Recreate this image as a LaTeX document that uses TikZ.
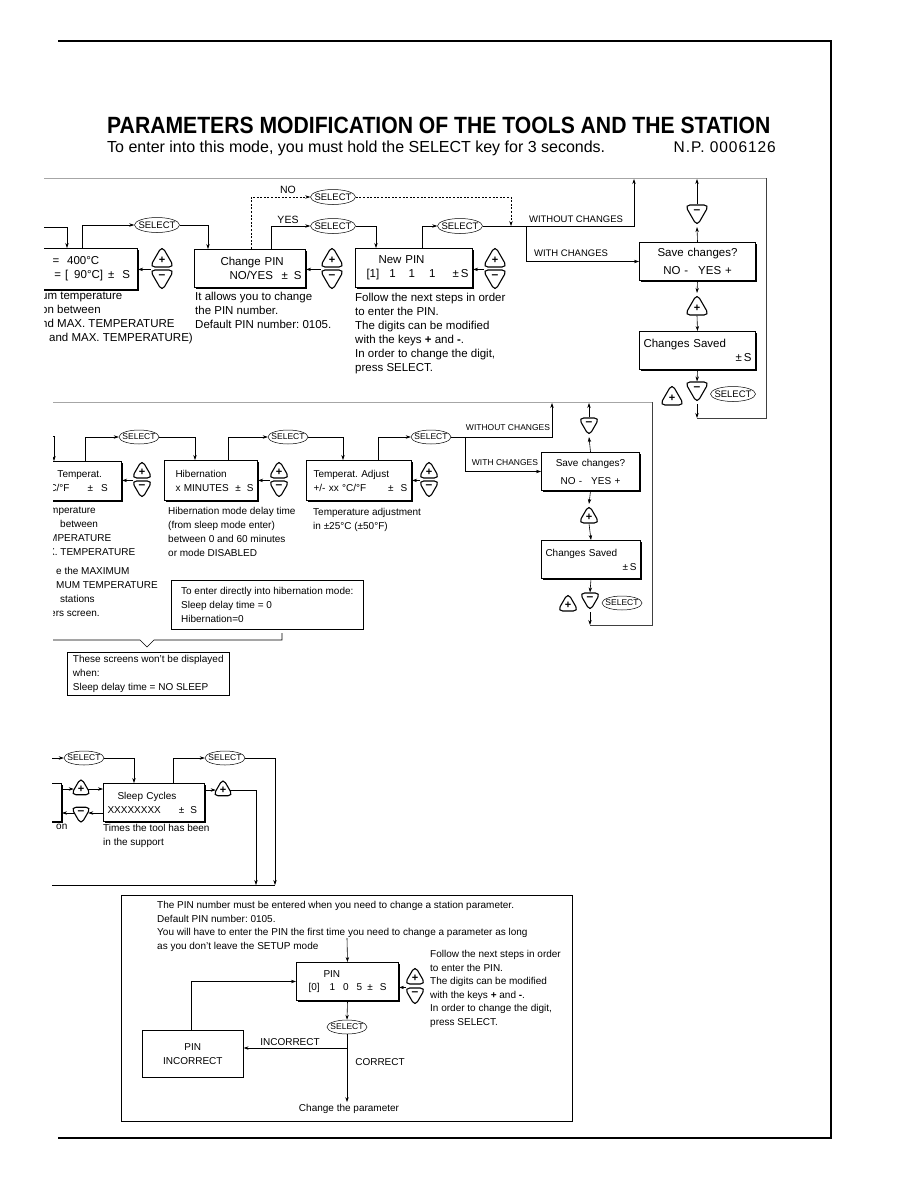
\documentclass[tikz,border=0pt]{standalone}
\usepackage{fontspec}
\setmainfont{Liberation Sans}
\usepackage{graphicx}
\usepackage{tikz}
\usetikzlibrary{arrows.meta, positioning, shapes.geometric, shadows}

\newcommand\rowAfont{\fontsize{11.5}{14}\selectfont}
\newcommand\rowBfont{\fontsize{10}{14}\selectfont}
\newcommand\pinfont{\fontsize{10}{13.6}\selectfont}
\newcommand\minussign{{\fontsize{12}{12}\selectfont\bfseries --}}

\tikzset{
  arr/.style={-{Stealth[length=5pt,width=3.4pt]}, line width=0.6pt},
  wire/.style={line width=0.6pt},
  dashwire/.style={dash pattern=on 2pt off 1.6pt},
  lcd/.style={draw, line width=1pt, fill=white, inner xsep=4pt, inner ysep=0pt, align=left,
    drop shadow={shadow xshift=1pt, shadow yshift=-1.2pt, opacity=1, fill=black}},
  note/.style={draw, line width=0.6pt, fill=white, inner xsep=5pt, inner ysep=0pt, align=left},
  selkey/.style={draw, ellipse, line width=0.5pt, inner xsep=-4pt, inner ysep=0pt,
    minimum width=45pt, minimum height=15pt, font=\fontsize{9.5}{10}\selectfont},
  selsmall/.style={selkey, minimum width=40pt, minimum height=14pt, font=\fontsize{8.5}{9}\selectfont},
  pluskey/.style={draw, line width=1.1pt, fill=white, regular polygon, regular polygon sides=3,
    rounded corners=5pt, minimum size=#1, inner sep=0pt, font=\bfseries\fontsize{11}{11}\selectfont},
  pluskey/.default=28pt,
  minuskey/.style={pluskey=#1, shape border rotate=180},
  minuskey/.default=28pt,
  desc/.style={align=left, anchor=north west, inner sep=0pt},
  lbl/.style={inner sep=0pt, font=\fontsize{9.5}{10}\selectfont},
  frameline/.style={line width=0.7pt, black!75},
  topline/.style={line width=0.8pt, black!35},
}

\begin{document}
\frenchspacing
\begin{tikzpicture}[x=1pt, y=-1pt]
  \useasboundingbox (0,0) rectangle (918,1188);

  % page frame and heading
  \draw[line width=1.1pt] (58,41) -- (831,41) -- (831,1138) -- (58,1138);
  \node[anchor=base west, inner sep=0pt] (title) at (107,134)
  {\scalebox{0.9}[1]{\fontsize{23.5}{28}\selectfont\bfseries PARAMETERS MODIFICATION OF THE TOOLS AND THE STATION}};
  \node[anchor=base west, inner sep=0pt, font=\fontsize{16}{18}\selectfont] (subtitle) at (107,152)
  {To enter into this mode, you must hold the SELECT key for 3 seconds.};
  \node[anchor=base east, inner sep=0pt, font=\fontsize{15.5}{17}\selectfont\addfontfeatures{LetterSpace=6}] (np) at (776,153)
  {N.P. 0006126};

  % ---------------- tools menu
  \begin{scope}[font=\rowAfont]
  \clip (44,170) rectangle (800,425);

  \node[lcd, anchor=north east, text width=130pt, minimum height=41pt] (maxt) at (138,248)
  {\hspace*{49pt}=\hspace{8pt}400°C\\\hspace*{51pt}=\ [\hspace{6pt}90°C]\hspace{5pt}±\hspace{8pt}S};
  \node[pluskey] (maxp) at (162,260) {+};
  \node[minuskey] (maxm) at (162,277) {\minussign};

  \node[lcd, anchor=north west, text width=103pt, minimum height=38pt] (cpin) at (194,249)
  {\hspace*{22pt}Change PIN\\\hspace*{31pt}NO/YES\hfill±\hspace{6pt}S};
  \node[pluskey] (cpinp) at (332,260) {+};
  \node[minuskey] (cpinm) at (332,277) {\minussign};

  \node[lcd, anchor=north west, text width=109pt, minimum height=39pt] (npin) at (355,248)
  {\hspace*{19pt}New PIN\\\hspace*{7pt}[1]\hspace{10pt}1\hspace{13pt}1\hspace{14pt}1\hfill±\,S};
  \node[pluskey] (npinp) at (495,260) {+};
  \node[minuskey] (npinm) at (495,277) {\minussign};

  \node[selkey] (sel1) at (157,225) {SELECT};
  \node[selkey] (selno) at (333,197) {SELECT};
  \node[selkey] (selyes) at (333,226) {SELECT};
  \node[selkey] (selnp) at (460,226) {SELECT};

  \node[lcd, anchor=north west, text width=108pt, minimum height=38pt, align=center] (save1) at (639,242)
  {Save changes?\\[4pt]NO -\hspace{10pt}YES +};
  \node[minuskey] (save1m) at (697,212) {\minussign};
  \node[pluskey] (save1p) at (697,308) {+};
  \node[lcd, anchor=north west, text width=108pt, minimum height=38pt] (saved1) at (639,331)
  {Changes Saved\\\hfill±\,S};
  \node[pluskey] (saved1p) at (672,398) {+};
  \node[minuskey] (saved1m) at (697,389) {\minussign};
  \node[selkey] (saved1s) at (733,394) {SELECT};

  \node[lbl, font=\fontsize{10.5}{11}\selectfont] (lno) at (288,190) {NO};
  \node[lbl, font=\fontsize{10.5}{11}\selectfont] (lyes) at (288,220) {YES};
  \node[lbl] (lwo1) at (576,219) {WITHOUT CHANGES};
  \node[lbl] (lw1) at (571,253) {WITH CHANGES};

  \node[desc] (maxd) at (41,292)
  {um temperature\\on between\\nd MAX. TEMPERATURE\\\hspace*{8pt}and MAX. TEMPERATURE)};
  \node[desc] (cpind) at (195,292)
  {It allows you to change\\the PIN number.\\Default PIN number: 0105.};
  \node[desc] (npind) at (355,293)
  {Follow the next steps in order\\to enter the PIN.\\The digits can be modified\\with the keys \textbf{+} and \textbf{-}.\\In order to change the digit,\\press SELECT.};

  \coordinate (in1) at (40,227);
  \coordinate (jn1) at (526,226);
  \coordinate (wo1) at (634,179);
  \coordinate (c1tl) at (40,178);
  \coordinate (c1tr) at (766,178);
  \coordinate (c1br) at (766,418);

  \draw[arr] (in1) -| (maxt.north -| 67,0);
  \draw[arr] (maxt.north -| 82,0) |- (sel1.west);
  \draw[arr] (sel1.east) -| (cpin.north -| 208,0);
  \draw[arr, dashwire] (cpin.north -| 251,0) |- (selno.west);
  \draw[arr, dashwire] (selno.east) -| (selnp.east -| 511,0);
  \draw[arr] (cpin.north -| 271,0) |- (selyes.west);
  \draw[arr] (selyes.east) -| (npin.north -| 376,0);
  \draw[arr] (npin.north -| 422,0) |- (selnp.west);
  \draw[wire] (selnp.east) -- (jn1);
  \draw[arr] (jn1) -| (wo1);
  \draw[arr] (jn1) |- (save1.west);
  \draw[arr] ([xshift=-11pt]maxm.north) -- (maxt.east |- maxm.north);
  \draw[arr] ([xshift=-11pt]cpinm.north) -- (cpin.east |- cpinm.north);
  \draw[arr] ([xshift=-11pt]npinm.north) -- (npin.east |- npinm.north);
  \draw[arr] (save1.north) -- (save1m.south);
  \draw[arr] (save1m.north) -- (save1m.north |- wo1);
  \draw[arr] (save1.south) -- (save1p.north);
  \draw[arr] (save1p.south) -- (saved1.north);
  \draw[arr] (saved1.south) -- (saved1m.north);
  \draw[arr] (saved1m.south) -- (saved1m.south |- c1br);
  \draw[frameline] (saved1m.south |- c1br) -- (c1br) -- (c1tr);
  \draw[topline] (c1tr) -- (c1tl);
  \end{scope}

  % ---------------- station menu
  \begin{scope}[font=\rowBfont]
  \clip (53,395) rectangle (800,712);

  \node[lcd, anchor=north east, text width=114pt, minimum height=39pt] (tunit) at (122,461)
  {\hspace*{54pt}Temperat.\\\hspace*{46pt}C/°F\hspace{18pt}±\hspace{8pt}S};
  \node[pluskey=24pt] (tunitp) at (142,472) {+};
  \node[minuskey=24pt] (tunitm) at (142,487) {\minussign};

  \node[lcd, anchor=north west, text width=85pt, minimum height=40pt] (hib) at (164,460)
  {\hspace*{7pt}Hibernation\\\hspace*{7pt}x MINUTES\hfill±\hspace{6pt}S};
  \node[pluskey=24pt] (hibp) at (279,472) {+};
  \node[minuskey=24pt] (hibm) at (279,487) {\minussign};

  \node[lcd, anchor=north west, text width=97pt, minimum height=40pt] (tadj) at (306,460)
  {\hspace*{3pt}Temperat. Adjust\\\hspace*{3pt}+/- xx °C/°F\hspace{22pt}±\hspace{7pt}S};
  \node[pluskey=24pt] (tadjp) at (429,472) {+};
  \node[minuskey=24pt] (tadjm) at (429,487) {\minussign};

  \node[selsmall] (sel2a) at (139,437) {SELECT};
  \node[selsmall] (sel2b) at (288,437) {SELECT};
  \node[selsmall] (sel2c) at (431,437) {SELECT};

  \node[lcd, anchor=north west, text width=90pt, minimum height=38pt, align=center] (save2) at (541,452)
  {Save changes?\\[4pt]NO -\hspace{9pt}YES +};
  \node[minuskey=24pt] (save2m) at (589,424) {\minussign};
  \node[pluskey=24pt] (save2p) at (589,517) {+};
  \node[lcd, anchor=north west, text width=91pt, minimum height=38pt] (saved2) at (541,540)
  {Changes Saved\\\hfill±\,S};
  \node[pluskey=24pt] (saved2p) at (568,605) {+};
  \node[minuskey=24pt] (saved2m) at (590,599) {\minussign};
  \node[selsmall] (saved2s) at (622,603) {SELECT};

  \node[lbl, font=\fontsize{8.5}{9}\selectfont] (lwo2) at (508,428) {WITHOUT CHANGES};
  \node[lbl, font=\fontsize{8.5}{9}\selectfont] (lw2) at (505,463) {WITH CHANGES};

  \node[desc] (tunitd) at (48,507)
  {\hspace*{2pt}mperature\\\hspace*{12pt}between\\\hspace*{1pt}MPERATURE\\X. TEMPERATURE};
  \node[desc] (tunitd2) at (48,567)
  {\hspace*{8pt}e the MAXIMUM\\\hspace*{8pt}MUM TEMPERATURE\\\hspace*{12pt}stations\\\hspace*{2pt}ers screen.};
  \node[desc] (hibd) at (168,507)
  {Hibernation mode delay time\\(from sleep mode enter)\\between 0 and 60 minutes\\or mode DISABLED};
  \node[desc] (tadjd) at (313,508)
  {Temperature adjustment\\in ±25°C (±50°F)};

  \node[note, anchor=north west, minimum width=192pt, minimum height=49pt] (hibnote) at (171,580)
  {To enter directly into hibernation mode:\\Sleep delay time = 0\\Hibernation=0};
  \node[note, anchor=north west, minimum width=162pt, minimum height=43pt] (scrnote) at (67,652)
  {These screens won't be displayed\\when:\\Sleep delay time = NO SLEEP};

  \coordinate (br1) at (40,640);
  \coordinate (brv) at (147,647);
  \coordinate (br2) at (282,640);
  \coordinate (br3) at (282,633);
  \draw[wire] (br1) -- (140,640) -- (brv) -- (154,640) -- (br2) -- (br3);

  \coordinate (in2) at (40,436);
  \coordinate (jn2) at (465,437);
  \coordinate (wo2) at (552,403);
  \coordinate (c2tl) at (40,402);
  \coordinate (c2tr) at (652,402);
  \coordinate (c2br) at (652,625);

  \draw[arr] (in2) -| (tunit.north -| 54,0);
  \draw[arr] (tunit.north -| 85,0) |- (sel2a.west);
  \draw[arr] (sel2a.east) -| (hib.north -| 195,0);
  \draw[arr] (hib.north -| 228,0) |- (sel2b.west);
  \draw[arr] (sel2b.east) -| (tadj.north -| 343,0);
  \draw[arr] (tadj.north -| 378,0) |- (sel2c.west);
  \draw[wire] (sel2c.east) -- (jn2);
  \draw[arr] (jn2) -| (wo2);
  \draw[arr] (jn2) |- (save2.west);
  \draw[arr] ([xshift=-9pt]tunitm.north) -- (tunit.east |- tunitm.north);
  \draw[arr] ([xshift=-9pt]hibm.north) -- (hib.east |- hibm.north);
  \draw[arr] ([xshift=-9pt]tadjm.north) -- (tadj.east |- tadjm.north);
  \draw[arr] (save2.north) -- (save2m.south);
  \draw[arr] (save2m.north) -- (save2m.north |- wo2);
  \draw[arr] (save2.south) -- (save2p.north);
  \draw[arr] (save2p.south) -- (saved2.north);
  \draw[arr] (saved2.south) -- (saved2m.north);
  \draw[arr] (saved2m.south) -- (saved2m.south |- c2br);
  \draw[frameline] (saved2m.south |- c2br) -- (c2br) -- (c2tr);
  \draw[topline] (c2tr) -- (c2tl);
  \end{scope}

  % ---------------- sleep cycles
  \begin{scope}[font=\rowBfont]
  \clip (52,740) rectangle (300,890);

  \node[lcd, anchor=north east, text width=54pt, minimum height=38pt] (prev3) at (62,783) {};
  \node[pluskey=23pt] (prev3p) at (81,789) {+};
  \node[minuskey=23pt] (prev3m) at (81,813) {\minussign};
  \node[lcd, anchor=north west, text width=93pt, minimum height=38pt] (sleep) at (103,783)
  {\hspace*{10pt}Sleep Cycles\\XXXXXXXX\hspace{18pt}±\hspace{6pt}S};
  \node[pluskey=23pt] (sleepp) at (223,790) {+};
  \node[selsmall] (sel3a) at (84,758) {SELECT};
  \node[selsmall] (sel3b) at (225,758) {SELECT};
  \node[desc] (sleepd) at (103,824) {Times the tool has been\\in the support};
  \node[desc] (prev3d) at (56,824) {on};

  \coordinate (in3) at (40,758);
  \coordinate (out3a) at (256,885);
  \coordinate (out3b) at (275,885);
  \coordinate (bl3) at (40,885);

  \draw[arr] (in3) -- (sel3a.west);
  \draw[arr] (sel3a.east) -| (sleep.north -| 134,0);
  \draw[arr] (sleep.north -| 173,0) |- (sel3b.west);
  \draw[arr] (sel3b.east) -| (out3b);
  \draw[arr] (sleep.east |- sleepp.west) -- (sleepp.west);
  \draw[arr] (sleepp.east) -| (out3a);
  \draw[wire] (bl3) -- (out3b);
  \draw[arr] (prev3.east |- prev3p.west) -- (prev3p.west);
  \draw[arr] (prev3p.east) -- (sleep.west |- prev3p.east);
  \draw[arr] (sleep.west |- prev3m.east) -- (prev3m.east);
  \draw[arr] (prev3m.west) -- (prev3.east |- prev3m.west);
  \end{scope}

  % ---------------- PIN entry
  \begin{scope}[font=\pinfont]
  \node[draw, line width=0.6pt, anchor=north west, minimum width=451pt, minimum height=226pt, inner sep=0pt] (pinframe) at (121,895) {};
  \node[desc] (pintxt) at (157,901)
  {The PIN number must be entered when you need to change a station parameter.\\Default PIN number: 0105.\\You will have to enter the PIN the first time you need to change a parameter as long\\as you don't leave the SETUP mode};
  \coordinate (pinin) at (347,938);
  \node[lcd, anchor=north west, text width=94pt, minimum height=38pt] (pinbox) at (296,962)
  {\hspace*{23pt}PIN\\\hspace*{8pt}[0]\hspace{10pt}1\hspace{8pt}0\hspace{8pt}5\hspace{5pt}±\hspace{7pt}S};
  \node[pluskey=24pt] (pinp) at (415,978) {+};
  \node[minuskey=24pt] (pinm) at (415,994) {\minussign};
  \node[desc] (pind) at (430,950)
  {Follow the next steps in order\\to enter the PIN.\\The digits can be modified\\with the keys \textbf{+} and \textbf{-}.\\In order to change the digit,\\press SELECT.};
  \node[selsmall] (pinsel) at (347,1027) {SELECT};
  \coordinate (pinjn) at (347,1048);
  \node[note, anchor=north west, text width=91pt, minimum height=47pt, align=center] (pinbad) at (142,1030)
  {PIN\\INCORRECT};
  \node[inner sep=2pt] (chg) at (349,1109) {Change the parameter};
  \node[lbl, font=\pinfont] (lbad) at (290,1042) {INCORRECT};
  \node[lbl, font=\pinfont] (lok) at (380,1062) {CORRECT};

  \draw[arr] (pinin) -- (pinbox.north);
  \draw[arr] ([xshift=-9pt]pinm.north) -- (pinbox.east |- pinm.north);
  \draw[arr] (pinbox.south) -- (pinsel.north);
  \draw[wire] (pinsel.south) -- (pinjn);
  \draw[arr] (pinjn) -- (pinbad.east |- pinjn);
  \draw[arr] (pinjn) -- (chg.north -| pinjn);
  \draw[arr] (pinbad.north -| 191,0) |- (pinbox.west);
  \end{scope}
\end{tikzpicture}
\end{document}
